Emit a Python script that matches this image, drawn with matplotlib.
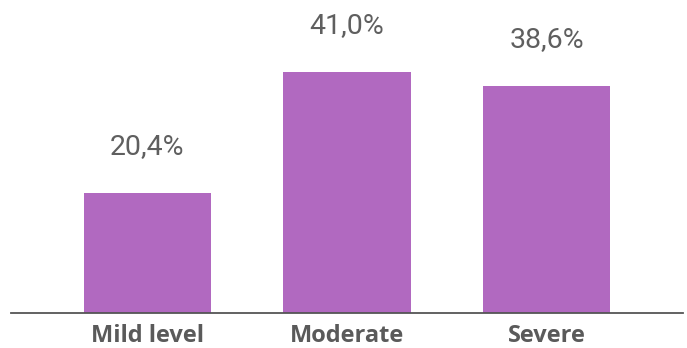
import matplotlib
matplotlib.use("Agg")
import matplotlib.pyplot as plt

categories = ["Mild level", "Moderate", "Severe"]
values = [20.4, 41.0, 38.6]
value_labels = ["20,4%", "41,0%", "38,6%"]

fig = plt.figure(figsize=(6.87, 3.48), dpi=100)
ax = fig.add_axes([11 / 687, 35 / 348, 672 / 687, 313 / 348])

x = range(len(categories))
ax.bar(x, values, width=0.637, color="#B169C0", zorder=2)

for xi, v, lab in zip(x, values, value_labels):
    ax.annotate(lab, (xi, v), xytext=(0, 28), textcoords="offset points",
                ha="center", va="baseline", fontsize=20.5, color="#5f5f5f",
                family="Roboto")

ax.set_xlim(-0.684, 2.684)
ax.set_ylim(0, 53.2)
for s in ["top", "right", "left"]:
    ax.spines[s].set_visible(False)
ax.spines["bottom"].set_color("#555555")
ax.spines["bottom"].set_linewidth(1.3)
ax.set_yticks([])
ax.set_xticks(list(x))
ax.set_xticklabels(categories, fontsize=17, fontweight="bold", color="#5a5a5a",
                   family="Open Sans")
ax.tick_params(axis="x", length=0, pad=8)

fig.savefig("out.png", dpi=100)
